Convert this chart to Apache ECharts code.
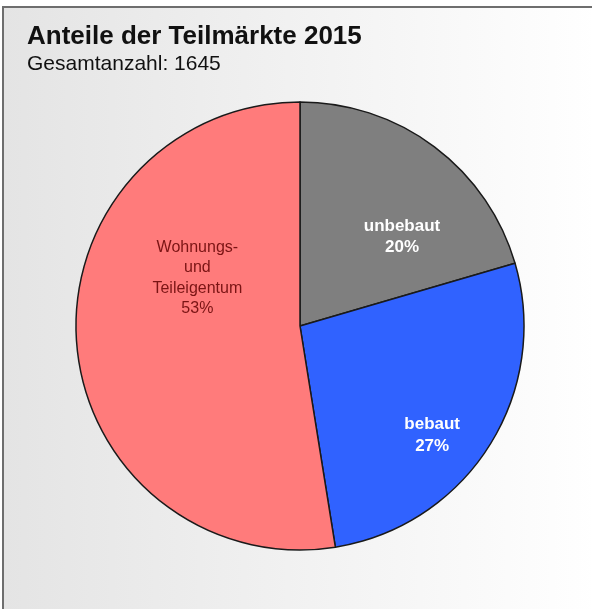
<!DOCTYPE html>
<html>
<head>
<meta charset="utf-8">
<script src="https://cdn.jsdelivr.net/npm/echarts@6/dist/echarts.min.js"></script>
<style>
  html, body { margin: 0; padding: 0; background: #fff; }
  #main { width: 592px; height: 609px; }
</style>
</head>
<body>
<div id="main"></div>
<script>
// Daten
var categories = ["unbebaut", "bebaut", "Wohnungs-\nund\nTeileigentum"];
var counts = [337, 444, 864];
var colors = ["#7f7f7f", "#3062ff", "#ff7b7b"];
var total = 1645;

// label shift from the default inside position (px)
var labelShift = [[33, 3], [35, 48], [12, -57]];
var labelStyle = [
  { color: "#ffffff", fontSize: 17, fontWeight: "bold", lineHeight: 21 },
  { color: "#ffffff", fontSize: 17, fontWeight: "bold", lineHeight: 22 },
  { color: "#7a1414", fontSize: 16, fontWeight: "normal", lineHeight: 20.5 }
];

var chart = echarts.init(document.getElementById("main"));

var data = categories.map(function (name, i) {
  return {
    name: name,
    value: counts[i],
    itemStyle: { color: colors[i] },
    label: labelStyle[i]
  };
});

var option = {
  animation: false,
  graphic: [
    {
      type: "rect",
      z: -10,
      shape: { x: 3, y: 7, width: 592, height: 610 },
      style: {
        fill: new echarts.graphic.LinearGradient(0, 0, 1, 0, [
          { offset: 0, color: "#e4e4e4" },
          { offset: 1, color: "#ffffff" }
        ]),
        stroke: "#6e6e6e",
        lineWidth: 2
      }
    }
  ],
  title: {
    text: "Anteile der Teilmärkte 2015",
    subtext: "Gesamtanzahl: " + total,
    left: 22,
    top: 19,
    itemGap: 4,
    textStyle: {
      fontFamily: "Liberation Sans",
      fontSize: 26,
      fontWeight: "bold",
      color: "#111"
    },
    subtextStyle: {
      fontFamily: "Liberation Sans",
      fontSize: 21,
      color: "#111"
    }
  },
  series: [
    {
      type: "pie",
      center: [300, 326],
      radius: 224,
      startAngle: 90,
      clockwise: true,
      data: data,
      itemStyle: { borderColor: "#1a1a1a", borderWidth: 1.5 },
      emphasis: { disabled: true },
      label: {
        position: "inside",
        fontFamily: "Liberation Sans",
        formatter: function (p) {
          return p.name + "\n" + Math.round(p.percent) + "%";
        }
      },
      labelLine: { show: false },
      labelLayout: function (p) {
        return { dx: labelShift[p.dataIndex][0], dy: labelShift[p.dataIndex][1] };
      }
    }
  ]
};

chart.setOption(option);
</script>
</body>
</html>
